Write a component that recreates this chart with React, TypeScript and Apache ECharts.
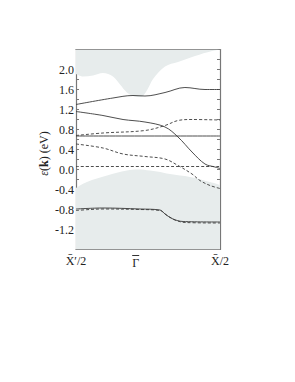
import React, { useEffect, useRef } from "react";
import * as echarts from "echarts";

// k positions: X'/2 = -0.354, Gamma = 0, X/2 = 0.5
const kTicks = [-0.354, 0, 0.5];
const kTickLabels = ["X\u0304\u2032/2", "\u0393", "X\u0304/2"];
const yLabelValues = [-1.2, -0.8, -0.4, 0.0, 0.4, 0.8, 1.2, 1.6, 2.0];

// shaded continuum boundaries [k, E]
const upperEdge: [number, number][] = [
  [-0.354, 1.91], [-0.313, 1.86], [-0.253, 1.88], [-0.194, 1.93], [-0.135, 1.86],
  [-0.093, 1.7], [-0.052, 1.54], [-0.016, 1.47], [0.026, 1.45], [0.043, 1.47],
  [0.073, 1.62], [0.103, 1.81], [0.174, 2.06], [0.251, 2.15], [0.352, 2.27],
  [0.453, 2.37], [0.5, 2.4],
];
const lowerEdge: [number, number][] = [
  [-0.354, -0.37], [-0.289, -0.25], [-0.170, -0.12], [-0.052, -0.02], [0.014, 0.0],
  [0.085, -0.02], [0.126, -0.04], [0.203, -0.09], [0.322, -0.15], [0.441, -0.25],
  [0.5, -0.31],
];

// bands
const solidTop: [number, number][] = [
  [-0.354, 1.3], [-0.135, 1.43], [-0.016, 1.48], [0.055, 1.47], [0.174, 1.54],
  [0.292, 1.64], [0.411, 1.6], [0.5, 1.6],
];
const solidDown: [number, number][] = [
  [-0.354, 1.16], [-0.194, 1.08], [-0.075, 1.0], [0.055, 0.95], [0.174, 0.85],
  [0.251, 0.65], [0.334, 0.35], [0.411, 0.11], [0.47, 0.05], [0.5, 0.02],
];
const dashedUp: [number, number][] = [
  [-0.354, 0.68], [-0.194, 0.73], [0.055, 0.78], [0.174, 0.88], [0.251, 0.98],
  [0.334, 1.0], [0.5, 0.99],
];
const solidFlat: [number, number][] = [[-0.354, 0.67], [0.5, 0.67]];
const dashedDown: [number, number][] = [
  [-0.354, 0.51], [-0.194, 0.43], [-0.075, 0.31], [0.055, 0.26], [0.174, 0.21],
  [0.251, 0.08], [0.334, -0.09], [0.381, -0.22], [0.441, -0.32], [0.5, -0.38],
];
const fermiDashed: [number, number][] = [[-0.354, 0.06], [0.5, 0.06]];
const solidLow: [number, number][] = [
  [-0.354, -0.79], [-0.194, -0.77], [0.026, -0.79], [0.144, -0.81], [0.174, -0.89],
  [0.221, -0.99], [0.281, -1.04], [0.5, -1.05],
];
const dashedLow: [number, number][] = [
  [-0.354, -0.82], [-0.271, -0.8], [-0.194, -0.79], [0.026, -0.8], [0.144, -0.82],
  [0.186, -0.92], [0.233, -1.01], [0.292, -1.06], [0.5, -1.07],
];

const FONT = "'Liberation Serif', 'DejaVu Serif', serif";
const LINE = "#3a3a3a";
const SHADE = "#e7ecec";
const AXIS = "#777";

export default function App() {
  const ref = useRef<HTMLDivElement>(null);
  useEffect(() => {
    if (!ref.current) return;
    const chart = echarts.init(ref.current, undefined, { renderer: "svg" });
    const lineSeries = (data: [number, number][], dashed: boolean, z = 3) => ({
      type: "line",
      data,
      smooth: 0.35,
      symbol: "none",
      z,
      lineStyle: { color: LINE, width: 0.9, type: dashed ? [3, 2] : "solid" },
    });
    const axisLineStyle = { show: true, onZero: false, lineStyle: { color: AXIS, width: 1.2 } };
    chart.setOption({
      animation: false,
      grid: { left: 76, right: 75, top: 49.5, bottom: 132.5 },
      xAxis: [
        {
          type: "value",
          min: -0.354,
          max: 0.5,
          position: "bottom",
          axisLine: axisLineStyle,
          splitLine: { show: false },
          axisTick: { show: true, inside: true, length: 4, customValues: [0], lineStyle: { color: AXIS } },
          axisLabel: {
            customValues: kTicks,
            formatter: (v: number) => {
              const i = kTicks.findIndex((t) => Math.abs(t - v) < 1e-6);
              if (i === 1) return "{bar| }\n{g|" + kTickLabels[i] + "}";
              return i >= 0 ? kTickLabels[i] : "";
            },
            fontFamily: FONT,
            fontSize: 12,
            color: "#222",
            margin: 5,
            rich: {
              bar: { width: 7, height: 1, fontSize: 1, lineHeight: 2, backgroundColor: "#333" },
              g: { fontFamily: FONT, fontSize: 12, lineHeight: 13, color: "#222" },
            },
          },
        },
        {
          type: "value",
          min: -0.354,
          max: 0.5,
          position: "top",
          axisLine: axisLineStyle,
          splitLine: { show: false },
          axisTick: { show: true, inside: true, length: 4, customValues: [0], lineStyle: { color: AXIS } },
          axisLabel: { show: false },
        },
      ],
      yAxis: [
        {
          type: "value",
          min: -1.6,
          max: 2.4,
          interval: 0.2,
          position: "left",
          axisLine: axisLineStyle,
          splitLine: { show: false },
          axisTick: { show: true, inside: true, length: 3, lineStyle: { color: AXIS } },
          axisLabel: {
            formatter: (v: number) => {
              const hit = yLabelValues.find((t) => Math.abs(t - v) < 1e-6);
              return hit === undefined ? "" : hit.toFixed(1);
            },
            fontFamily: FONT,
            fontSize: 12,
            color: "#222",
            margin: 2,
          },
          name: "{i|\u03b5}({b|k}) (eV)",
          nameLocation: "middle",
          nameGap: 26,
          nameRotate: 90,
          nameTextStyle: {
            fontFamily: FONT,
            fontSize: 12,
            color: "#222",
            padding: [0, 8, 0, 0],
            rich: {
              i: { fontFamily: FONT, fontSize: 12, fontStyle: "italic", color: "#222" },
              b: { fontFamily: FONT, fontSize: 12, fontWeight: "bold", color: "#222" },
            },
          },
        },
        {
          type: "value",
          min: -1.6,
          max: 2.4,
          interval: 0.2,
          position: "right",
          axisLine: axisLineStyle,
          splitLine: { show: false },
          axisTick: { show: true, inside: true, length: 3, lineStyle: { color: AXIS } },
          axisLabel: { show: false },
        },
      ],
      series: [
        {
          type: "line",
          data: upperEdge,
          smooth: 0.35,
          symbol: "none",
          z: 1,
          lineStyle: { width: 0 },
          areaStyle: { color: SHADE, opacity: 1, origin: "end" },
        },
        {
          type: "line",
          data: lowerEdge,
          smooth: 0.35,
          symbol: "none",
          z: 1,
          lineStyle: { width: 0 },
          areaStyle: { color: SHADE, opacity: 1, origin: "start" },
        },
        lineSeries(solidTop, false),
        lineSeries(solidDown, false),
        lineSeries(dashedUp, true),
        lineSeries(solidFlat, false),
        lineSeries(dashedDown, true),
        lineSeries(fermiDashed, true),
        lineSeries(solidLow, false),
        lineSeries(dashedLow, true),
      ],
    });
    return () => chart.dispose();
  }, []);
  return (
    <div
      ref={ref}
      style={{ position: "fixed", left: 0, top: 0, width: 295, height: 382, background: "#fff" }}
    />
  );
}
